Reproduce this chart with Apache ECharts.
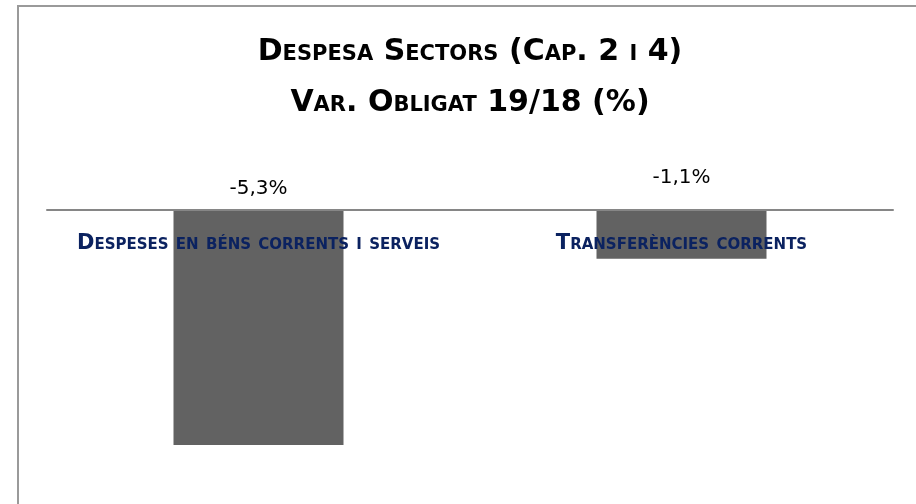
<!DOCTYPE html>
<html>
<head>
<meta charset="utf-8">
<script src="https://cdn.jsdelivr.net/npm/echarts@6/dist/echarts.min.js"></script>
<style>html,body{margin:0;padding:0;background:#fff;}#c{width:916px;height:504px;}</style>
</head>
<body>
<div id="c"></div>
<script>
const titleLines = ['Despesa Sectors (Cap. 2 i 4)', 'Var. Obligat 19/18 (%)'];
const categories = ['Despeses en béns corrents i serveis', 'Transferències corrents'];
const values = [-5.3, -1.1];
const labelGaps = [11, 22];

const chart = echarts.init(document.getElementById('c'), null, {renderer: 'canvas'});
const FONT = 'DejaVu Sans';
chart.setOption({
  animation: false,
  backgroundColor: '#ffffff',
  title: {
    text: titleLines.join('\n'),
    left: 470,
    top: 27,
    textAlign: 'center',
    padding: 0,
    textStyle: {
      fontFamily: FONT, fontWeight: 'bold', fontStyle: 'small-caps',
      fontSize: 30, lineHeight: 51, color: '#000000'
    }
  },
  graphic: [{
    type: 'rect', silent: true, z: -1,
    shape: {x: 18, y: 6, width: 1000, height: 600},
    style: {fill: 'none', stroke: '#9a9a9a', lineWidth: 2}
  }],
  grid: {left: 47, right: 23, top: 210, bottom: 28, containLabel: false, outerBoundsMode: 'none'},
  xAxis: {
    type: 'category',
    data: categories,
    position: 'top',
    z: 5,
    axisLine: {onZero: false, lineStyle: {color: '#868686', width: 2}},
    axisTick: {show: false},
    axisLabel: {
      inside: true,
      margin: 23, interval: 0,
      fontFamily: FONT, fontWeight: 'bold', fontStyle: 'small-caps',
      fontSize: 21, color: '#0b2260'
    }
  },
  yAxis: {
    type: 'value', min: -6, max: 0,
    show: false,
    splitLine: {show: false}
  },
  series: [{
    type: 'bar',
    barWidth: 170,
    data: values.map((v, i) => ({
      value: v,
      label: {distance: labelGaps[i]}
    })),
    itemStyle: {color: '#626262'},
    label: {
      show: true, position: 'top',
      fontFamily: FONT, fontSize: 20, color: '#000000',
      formatter: p => p.value.toFixed(1).replace('.', ',') + '%'
    }
  }]
});
</script>
</body>
</html>
